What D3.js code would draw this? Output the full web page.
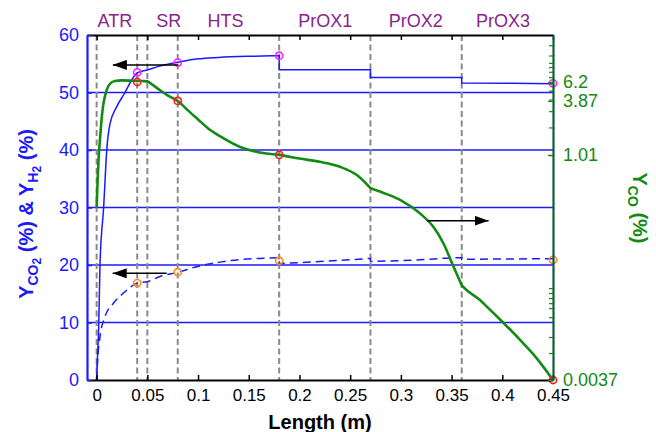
<!DOCTYPE html>
<html>
<head>
<meta charset="utf-8">
<script src="https://cdn.jsdelivr.net/npm/d3@7"></script>
<style>
  body { margin: 0; background: #fff; }
  svg { display: block; font-family: "Liberation Sans", Arial, sans-serif; }
</style>
</head>
<body>
<svg id="chart" width="656" height="432"></svg>
<script>
// ---------- data ----------
const xTicks = [0, 0.05, 0.1, 0.15, 0.2, 0.25, 0.3, 0.35, 0.4, 0.45];
const yLeftTicks = [0, 10, 20, 30, 40, 50, 60];
const gridValues = [10, 20, 30, 40, 50];
const zoneBounds = [0, 0.04, 0.05, 0.08, 0.18, 0.27, 0.36];
const stageNames = ["ATR", "SR", "HTS", "PrOX1", "PrOX2", "PrOX3"];
const stageX = [0.018, 0.071, 0.127, 0.2255, 0.3147, 0.4006];

// H2 yield (%) along the reactor train (solid line, left axis)
const h2X = [0, 0.001, 0.002, 0.0033, 0.0069, 0.0102, 0.0131, 0.0197, 0.028, 0.035, 0.04, 0.045, 0.05,
             0.06, 0.07, 0.08, 0.1, 0.12, 0.15, 0.18,
             0.18, 0.27,
             0.27, 0.36,
             0.36, 0.41, 0.45];
const h2Y = [0, 4.5, 9, 20, 30, 40.5, 44.5, 47.5, 50, 52.3, 53.4, 53.7, 53.9,
             54.5, 54.9, 55.25, 55.85, 56.1, 56.3, 56.4,
             53.95, 53.95,
             52.6, 52.6,
             51.65, 51.6, 51.5];

// CO2 yield (%) (dashed line, left axis)
const co2X = [0, 0.001, 0.0033, 0.0082, 0.0164, 0.0263, 0.04, 0.045, 0.05, 0.0625, 0.08, 0.0987, 0.1217, 0.1415, 0.16, 0.18,
              0.18, 0.22, 0.27,
              0.27, 0.319, 0.355, 0.36,
              0.36, 0.45];
const co2Y = [0, 3.5, 7.5, 11, 13.3, 15.1, 16.85, 17.0, 17.1, 18.0, 18.75, 19.7, 20.5, 20.95, 21.15, 21.25,
              20.25, 20.6, 21.15,
              20.6, 20.9, 21.25, 21.25,
              21.0, 21.1];

// CO yield (%) (thick green line, log right axis)
const coX = [0, 0.001, 0.002, 0.003, 0.0045, 0.006, 0.009, 0.013, 0.018, 0.025, 0.035, 0.045, 0.05, 0.055, 0.0625, 0.07,
             0.08, 0.09, 0.1, 0.11, 0.122, 0.1415, 0.161, 0.18, 0.2, 0.22, 0.24, 0.2566, 0.27,
             0.27, 0.286, 0.3, 0.319, 0.332, 0.342, 0.352, 0.36,
             0.36, 0.365, 0.378, 0.385, 0.4, 0.4177, 0.434, 0.45];
const coY = [0.27, 0.55, 0.95, 1.35, 2.2, 3.2, 4.7, 5.9, 6.35, 6.45, 6.4, 6.35, 6.3, 5.8, 5.05, 4.45,
             3.87, 3.06, 2.44, 1.95, 1.6, 1.23, 1.07, 1.01, 0.92, 0.85, 0.75, 0.61, 0.44,
             0.44, 0.38, 0.325, 0.234, 0.168, 0.111, 0.062, 0.039,
             0.039, 0.0347, 0.0271, 0.0229, 0.0158, 0.0100, 0.00635, 0.0037];

// sampled stage outlets
const sampleX = [0.04, 0.08, 0.18, 0.45];
const h2Samples = [53.5, 55.2, 56.4, 51.6];
const co2Samples = [16.85, 18.75, 20.75, 20.9];
const coSamples = [6.2, 3.87, 1.01, 0.0037];
const coLabels = ["6.2", "3.87", "1.01", "0.0037"];
const coMinorTicks = [0.00724, 0.0108, 0.0177, 0.0222, 0.0251, 0.0285, 0.0323, 0.0365,
                      1, 2, 3, 4, 5, 6, 7, 8, 9, 10, 12, 15.5];

// arrows pointing to the axis each curve is read on
const arrowFrom = [0.08, 0.069, 0.3257];
const arrowTo = [0.016, 0.0158, 0.3865];
const arrowLevel = [54.8, 18.55, 27.7];

// ---------- layout ----------
const svg = d3.select("#chart");
const plotL = 87, plotR = 553, plotT = 35, plotB = 380;

const x = d3.scaleLinear().domain([-0.0095, 0.45]).range([plotL, plotR]);
const yL = d3.scaleLinear().domain([0, 60]).range([plotB, plotT]);
const yR = d3.scaleLog().domain([0.0037, 20]).range([plotB, plotT]);

const BLUE = "#1a1aff";
const GREEN = "#138a13";
const AXIS_GREEN = "#0e5c3c";
const PURPLE = "#8b238b";

// horizontal grid
svg.append("g").selectAll("line").data(gridValues).join("line")
  .attr("x1", plotL).attr("x2", plotR)
  .attr("y1", d => yL(d)).attr("y2", d => yL(d))
  .attr("stroke", BLUE).attr("stroke-width", 1.6);

// zone boundaries
svg.append("g").selectAll("line").data(zoneBounds).join("line")
  .attr("x1", d => x(d)).attr("x2", d => x(d))
  .attr("y1", plotT).attr("y2", plotB)
  .attr("stroke", "#8a8a8a").attr("stroke-width", 2)
  .attr("stroke-dasharray", "6,3.5");

// path builder: continuous runs smoothed, repeated x values become vertical joins
function buildPath(xs, ys, yScale) {
  const runs = [];
  let cur = [];
  xs.forEach((xv, i) => {
    if (cur.length && xv <= cur[cur.length - 1][0]) { runs.push(cur); cur = []; }
    cur.push([xv, ys[i]]);
  });
  runs.push(cur);
  const gen = d3.line().x(d => x(d[0])).y(d => yScale(d[1])).curve(d3.curveMonotoneX);
  return runs.map((r, i) => { const s = gen(r); return i ? "L" + s.slice(1) : s; }).join("");
}

svg.append("path").attr("d", buildPath(co2X, co2Y, yL))
  .attr("fill", "none").attr("stroke", BLUE).attr("stroke-width", 1.5)
  .attr("stroke-dasharray", "8,5");

svg.append("path").attr("d", buildPath(h2X, h2Y, yL))
  .attr("fill", "none").attr("stroke", BLUE).attr("stroke-width", 1.5);

svg.append("path").attr("d", buildPath(coX, coY, yR))
  .attr("fill", "none").attr("stroke", GREEN).attr("stroke-width", 2.6)
  .attr("stroke-linejoin", "round");

// sample markers
function markers(vals, yScale, color) {
  svg.append("g").selectAll("circle").data(vals).join("circle")
    .attr("cx", (d, i) => x(sampleX[i])).attr("cy", d => yScale(d))
    .attr("r", 3.6).attr("fill", "none")
    .attr("stroke", color).attr("stroke-width", 1.6);
}
markers(h2Samples, yL, "#ff22ff");
markers(co2Samples, yL, "#ff8c1a");
markers(coSamples, yR, "#ff1a1a");

// arrows
const defs = svg.append("defs");
defs.append("marker").attr("id", "head")
  .attr("viewBox", "0 0 14 10").attr("refX", 14).attr("refY", 5)
  .attr("markerUnits", "userSpaceOnUse")
  .attr("markerWidth", 14).attr("markerHeight", 10)
  .attr("orient", "auto")
  .append("path").attr("d", "M0,0L14,5L0,10Z").attr("fill", "#000");

svg.append("g").selectAll("line").data(arrowLevel).join("line")
  .attr("x1", (d, i) => x(arrowFrom[i])).attr("x2", (d, i) => x(arrowTo[i]))
  .attr("y1", d => yL(d)).attr("y2", d => yL(d))
  .attr("stroke", "#000").attr("stroke-width", 1.5)
  .attr("marker-end", "url(#head)");

// ---------- axes ----------
const fmtX = v => String(+v.toFixed(2));

// top frame
const topAxis = svg.append("g").attr("transform", `translate(0,${plotT})`)
  .call(d3.axisTop(x).tickValues(xTicks).tickSizeInner(-5).tickSizeOuter(0).tickFormat(""));
topAxis.select(".domain").attr("stroke", "#000").attr("stroke-width", 2);
topAxis.selectAll(".tick line").attr("stroke", "#000").attr("stroke-width", 1.5);

// bottom axis
const botAxis = svg.append("g").attr("transform", `translate(0,${plotB})`)
  .call(d3.axisBottom(x).tickValues(xTicks).tickSizeInner(-5).tickSizeOuter(0).tickPadding(9).tickFormat(fmtX));
botAxis.select(".domain").attr("stroke", "#000").attr("stroke-width", 2.2);
botAxis.selectAll(".tick line").attr("stroke", "#000").attr("stroke-width", 1.5);
botAxis.selectAll("text").attr("font-size", 17).attr("fill", "#000")
  .attr("font-family", "Liberation Sans, Arial, sans-serif");

// left axis
const leftAxis = svg.append("g").attr("transform", `translate(${plotL},0)`)
  .call(d3.axisLeft(yL).tickValues(yLeftTicks).tickSizeInner(-5).tickSizeOuter(0).tickPadding(8));
leftAxis.select(".domain").attr("stroke", BLUE).attr("stroke-width", 2.2);
leftAxis.selectAll(".tick line").attr("stroke", BLUE).attr("stroke-width", 1.5);
leftAxis.selectAll("text").attr("font-size", 18).attr("fill", BLUE)
  .attr("font-family", "Liberation Sans, Arial, sans-serif");

// right log axis: minor ticks then labelled outlet values
const rightMinor = svg.append("g").attr("transform", `translate(${plotR},0)`)
  .call(d3.axisRight(yR).tickValues(coMinorTicks).tickSizeInner(-4).tickSizeOuter(0).tickFormat(""));
rightMinor.select(".domain").attr("stroke", AXIS_GREEN).attr("stroke-width", 2.2);
rightMinor.selectAll(".tick line").attr("stroke", GREEN).attr("stroke-width", 1.2);

const rightMajor = svg.append("g").attr("transform", `translate(${plotR},0)`)
  .call(d3.axisRight(yR).tickValues(coSamples).tickSizeInner(-5).tickSizeOuter(0).tickPadding(10)
    .tickFormat((d, i) => coLabels[i]));
rightMajor.select(".domain").remove();
rightMajor.selectAll(".tick line").attr("stroke", GREEN).attr("stroke-width", 1.2);
rightMajor.selectAll("text").attr("font-size", 18).attr("fill", GREEN)
  .attr("font-family", "Liberation Sans, Arial, sans-serif");

// stage names
svg.append("g").selectAll("text").data(stageNames).join("text")
  .attr("x", (d, i) => x(stageX[i])).attr("y", 27)
  .attr("text-anchor", "middle").attr("font-size", 18).attr("fill", PURPLE)
  .text(d => d);

// axis titles
svg.append("text").attr("x", 320).attr("y", 429)
  .attr("text-anchor", "middle").attr("font-size", 20).attr("font-weight", "bold")
  .attr("fill", "#000").text("Length (m)");

const lt = svg.append("text")
  .attr("transform", "translate(33,214) rotate(-90)")
  .attr("text-anchor", "middle").attr("font-size", 20).attr("font-weight", "bold").attr("fill", BLUE);
lt.append("tspan").text("Y");
lt.append("tspan").attr("font-size", 14).attr("dy", 5).text("CO");
lt.append("tspan").attr("font-size", 12).attr("dy", 3).text("2");
lt.append("tspan").attr("dy", -8).text(" (%) & Y");
lt.append("tspan").attr("font-size", 14).attr("dy", 5).text("H");
lt.append("tspan").attr("font-size", 12).attr("dy", 3).text("2");
lt.append("tspan").attr("dy", -8).text(" (%)");

const rt = svg.append("text")
  .attr("transform", "translate(633,208) rotate(90)")
  .attr("text-anchor", "middle").attr("font-size", 20).attr("font-weight", "bold").attr("fill", GREEN);
rt.append("tspan").text("Y");
rt.append("tspan").attr("font-size", 14).attr("dy", 5).text("CO");
rt.append("tspan").attr("dy", -5).text(" (%)");
</script>
</body>
</html>
